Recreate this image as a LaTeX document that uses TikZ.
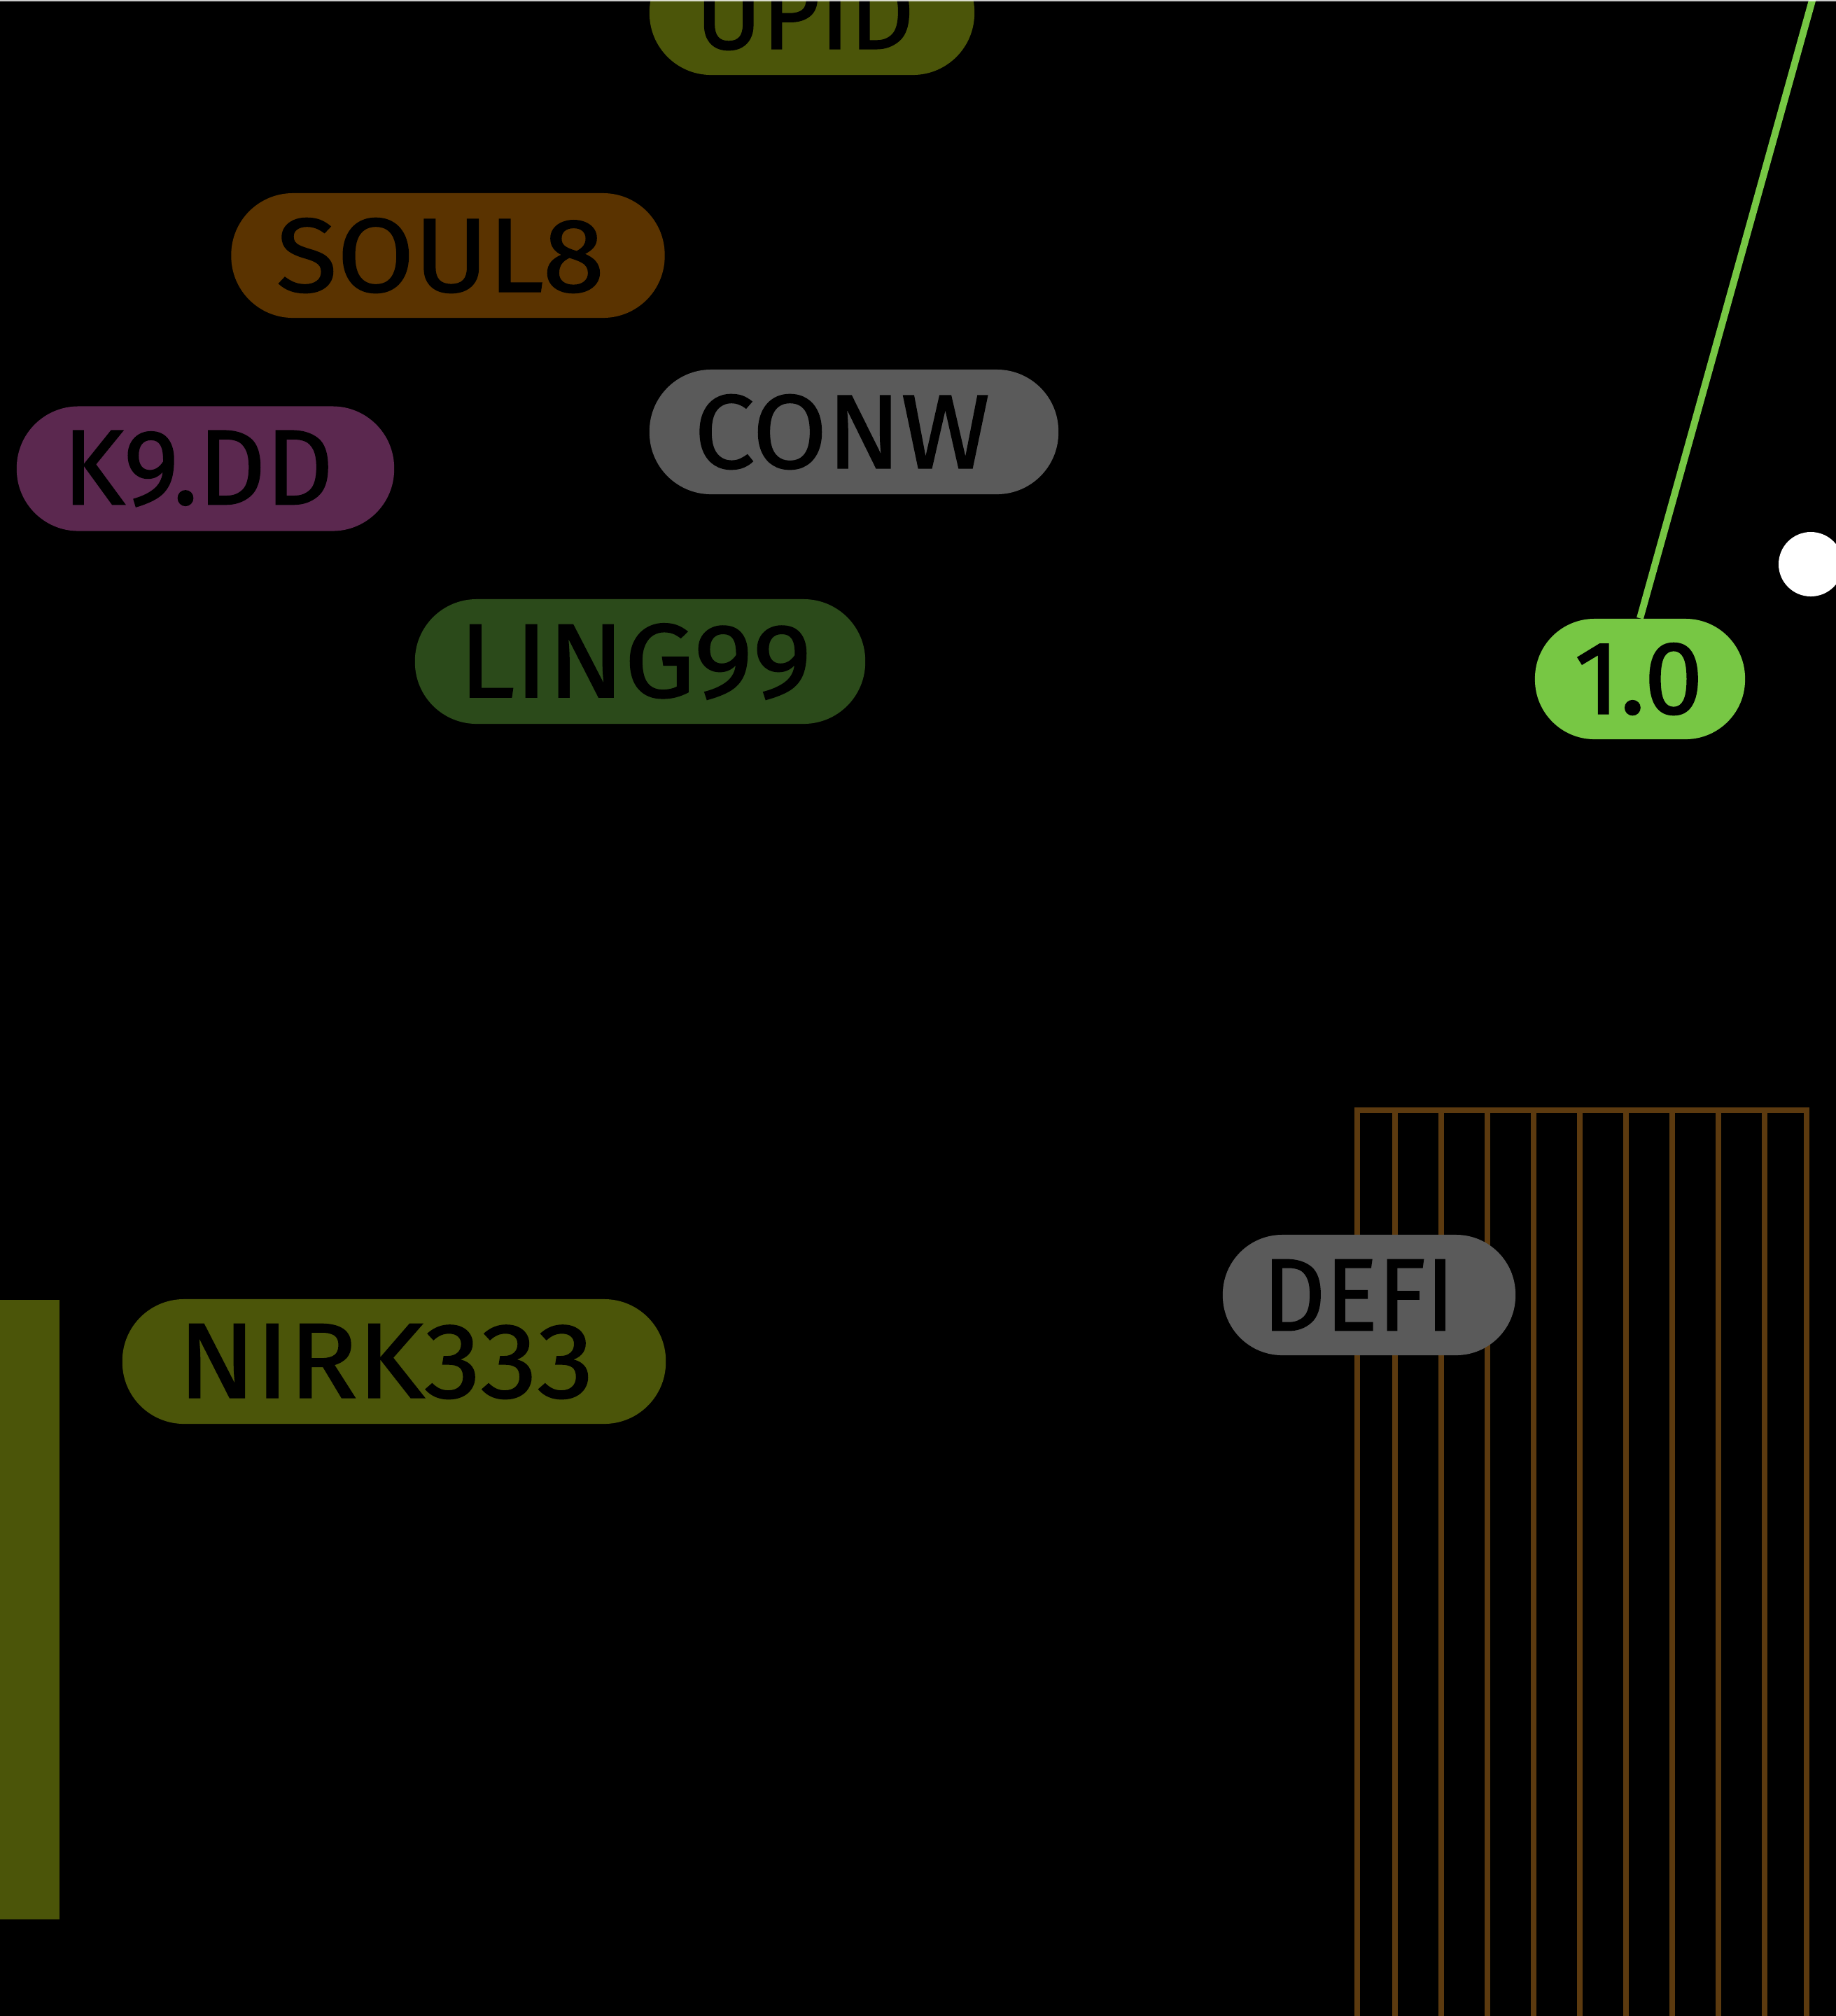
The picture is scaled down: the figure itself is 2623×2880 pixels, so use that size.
\documentclass[tikz,border=0pt]{standalone}
\usepackage{fontspec}
\usepackage{graphicx}
\newfontfamily\pillfont{Fira Sans}[FakeBold=1.2]
\definecolor{cOlive}{HTML}{4B5509}
\definecolor{cBrown}{HTML}{5A3300}
\definecolor{cPurple}{HTML}{5B284F}
\definecolor{cGray}{HTML}{5A5A5A}
\definecolor{cDkGreen}{HTML}{2B4A1A}
\definecolor{cGreen}{HTML}{77C744}
\definecolor{cGrid}{HTML}{5C3A0F}
\newcommand\pilltxt[4]{\resizebox{#1cm}{#2cm}{\pillfont #3}\hspace*{#4cm}}
\begin{document}
\begin{tikzpicture}[x=0.01cm,y=-0.01cm,
  pill/.style={rounded corners=0.88cm, minimum height=1.78cm, inner sep=0pt, text=black},
  pillsm/.style={pill, rounded corners=0.85cm, minimum height=1.72cm},
  gridline/.style={draw=cGrid, line width=0.085cm}]
\fill[black] (0,0) rectangle (2623,2880);
\useasboundingbox (0,0) rectangle (2623,2880);
\clip (0,0) rectangle (2623,2880);
% brown grid
\draw[gridline] (1939,2900) -- (1939,1586) -- (2581,1586) -- (2581,2900);
\foreach \x in {1993,2059,...,2521} \draw[gridline] (\x,1586) -- (\x,2900);
% left olive bar
\fill[cOlive] (0,1857) rectangle (85,2742);
% pills
\node[pill, fill=cOlive, minimum width=4.64cm] (upid) at (1160,18) {\pilltxt{3.12}{1.05}{UPID}{0.2}};
\node[pill, fill=cBrown, minimum width=6.19cm] (soul) at (640,365) {\pilltxt{4.68}{1.05}{SOUL8}{0.22}};
\node[pill, fill=cPurple, minimum width=5.39cm] (k9) at (293.5,669.5) {\pilltxt{3.86}{1.05}{K9.DD}{0.21}};
\node[pill, fill=cGray, minimum width=5.84cm] (conw) at (1220,617) {\pilltxt{4.22}{1.05}{CONW}{0.34}};
\node[pill, fill=cDkGreen, minimum width=6.43cm] (ling) at (914.5,945) {\pilltxt{5.03}{1.05}{LING99}{0.14}};
\node[pillsm, fill=cGreen, minimum width=3.00cm] (one) at (2343,970) {\pilltxt{1.84}{1.01}{1.0}{0.04}};
\node[pillsm, fill=cGray, minimum width=4.18cm] (defi) at (1956,1850) {\pilltxt{2.74}{1.01}{DEFI}{0.3}};
\node[pill, fill=cOlive, minimum width=7.76cm] (nirk) at (563,1945) {\pilltxt{5.93}{1.05}{NIRK333}{0.23}};
% white dot
\node[circle, fill=white, minimum size=0.92cm, inner sep=0pt] (dot) at (2587,806) {};
% green connector
\coordinate (gtop) at (2592,-10);
\draw[cGreen, line width=0.1cm] (gtop) -- (one.north);
% top hairline
\draw[white, opacity=0.8, line width=0.02cm] (0,1) -- (2623,1);
\end{tikzpicture}
\end{document}
